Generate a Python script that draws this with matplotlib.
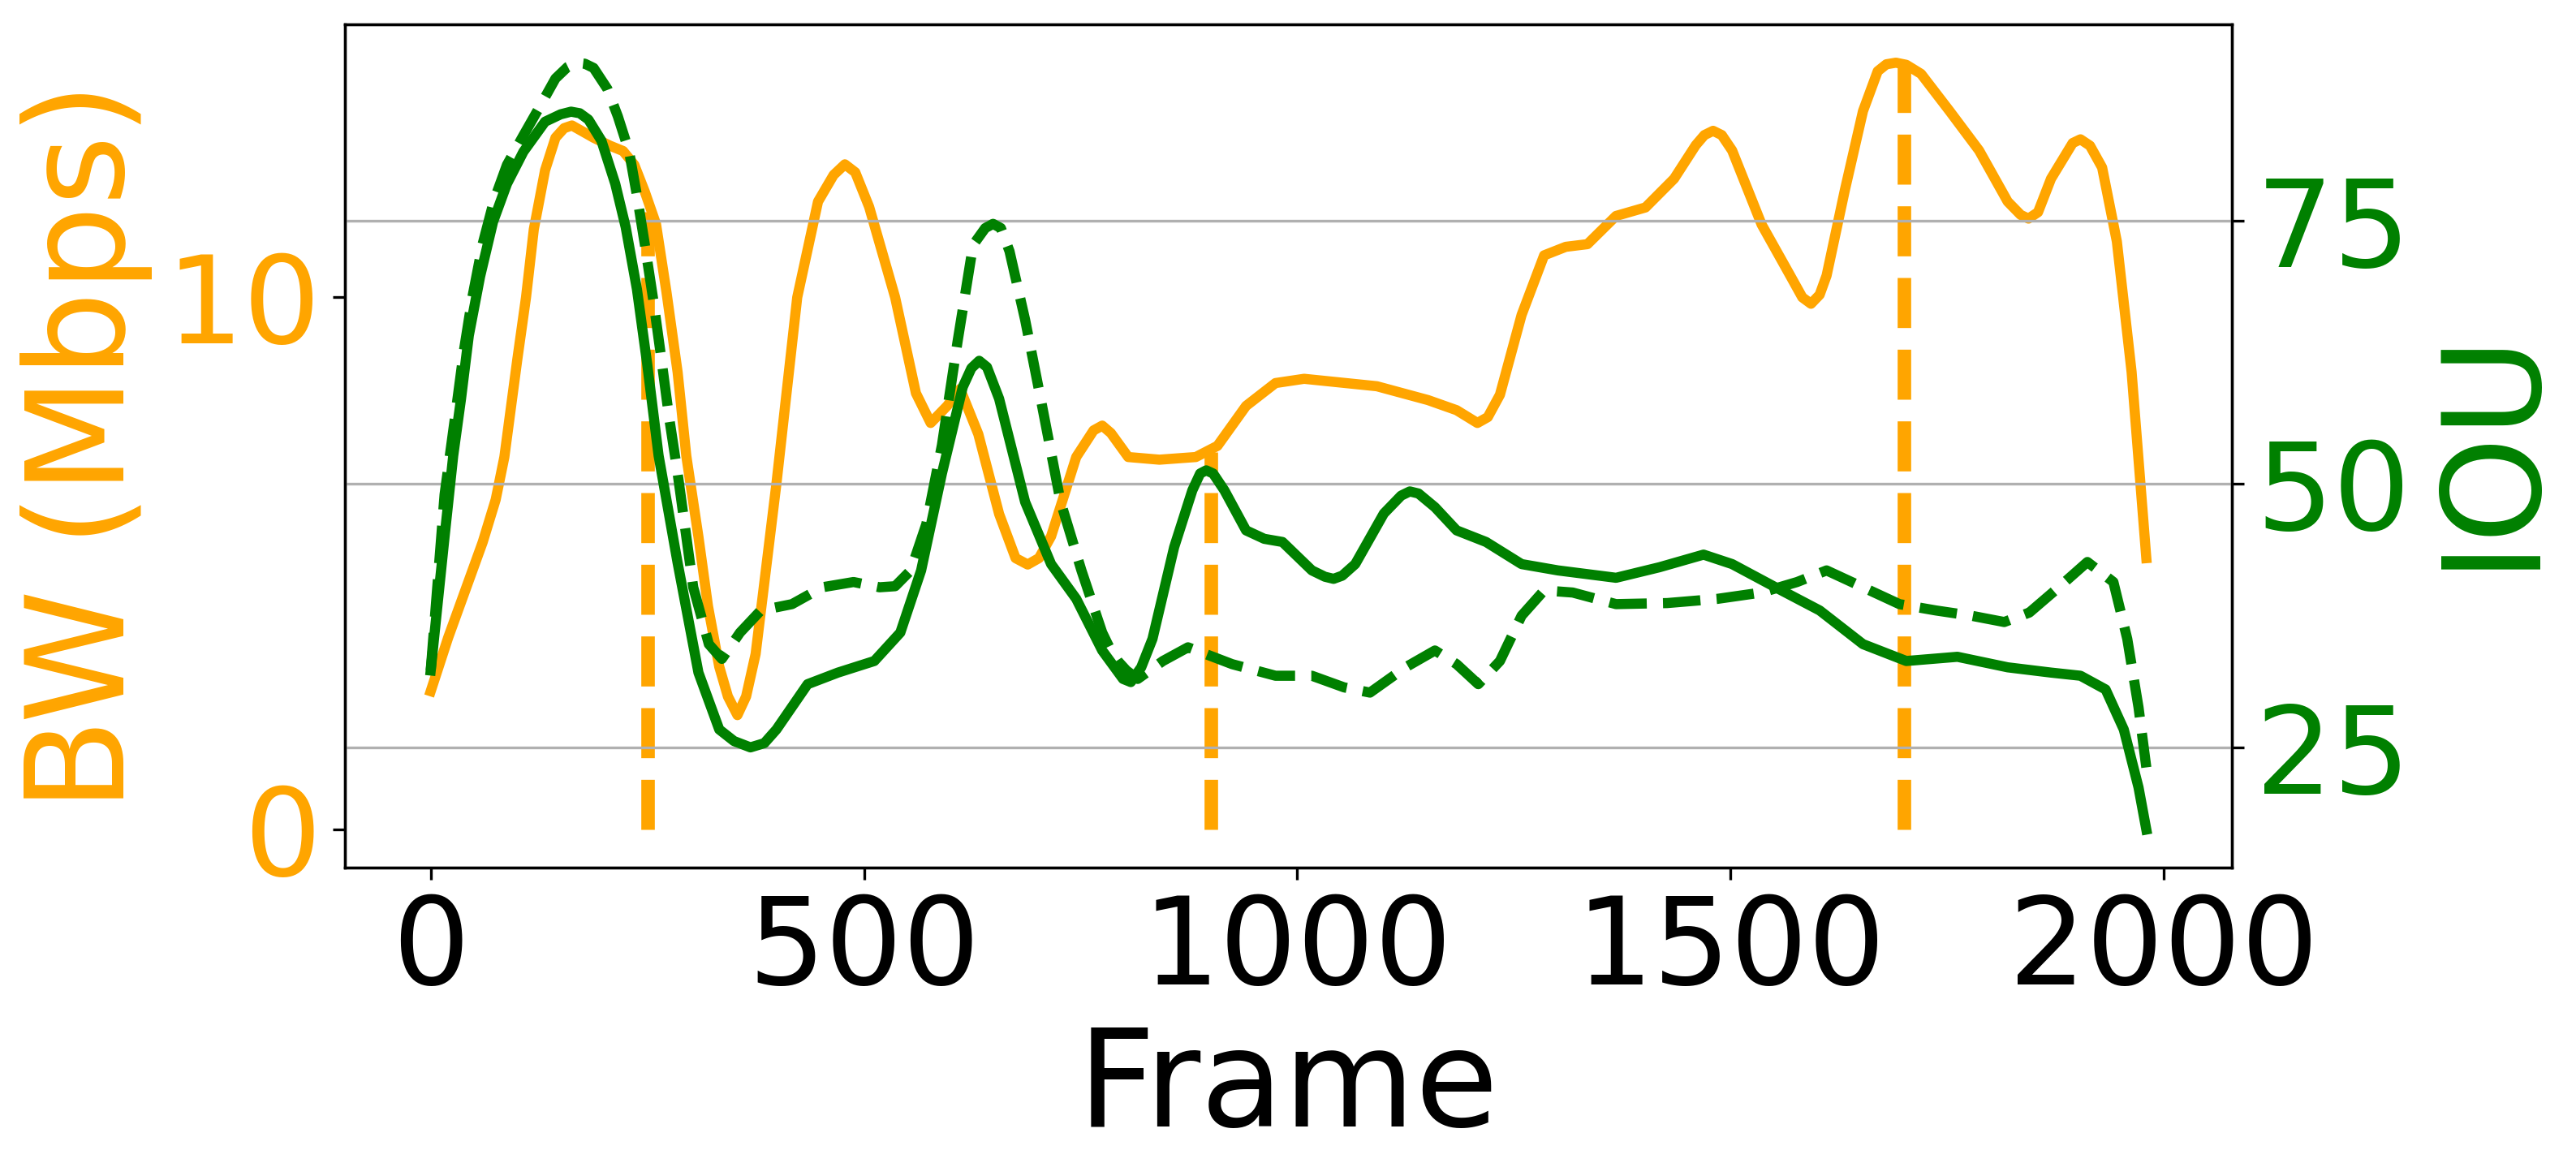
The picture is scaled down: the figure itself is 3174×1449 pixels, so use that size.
import matplotlib
matplotlib.use("Agg")
import matplotlib.pyplot as plt

# bandwidth trace (orange, left axis)
bw_frame = [0, 20, 40, 60, 75, 85, 100, 110, 119, 132, 144, 154, 163, 175,
            188, 207, 222, 235, 247, 260, 272, 285, 295, 309, 320, 333, 343,
            354, 364, 375, 399, 423, 447, 465, 478, 490, 506, 536, 560, 577,
            596, 611, 632, 656, 675, 689, 702, 716, 745, 765, 775, 785, 805,
            841, 883, 908, 941, 975, 1008, 1092, 1151, 1184, 1208, 1220, 1234,
            1259, 1285, 1310, 1335, 1368, 1402, 1435, 1460, 1470, 1480, 1490,
            1502, 1536, 1569, 1583, 1593, 1603, 1611, 1632, 1653, 1670, 1680,
            1691, 1703, 1720, 1753, 1787, 1820, 1835, 1844, 1855, 1870, 1895,
            1904, 1915, 1929, 1946, 1963, 1980]
bw = [2.6, 3.6, 4.5, 5.4, 6.2, 7.0, 8.84, 10.0, 11.28, 12.39, 13.0, 13.18,
      13.23, 13.12, 13.0, 12.85, 12.75, 12.49, 11.99, 11.38, 10.11, 8.59,
      7.02, 5.5, 4.2, 3.06, 2.5, 2.15, 2.5, 3.3, 6.5, 10.0, 11.8, 12.3, 12.5,
      12.35, 11.7, 10.0, 8.2, 7.64, 7.96, 8.28, 7.43, 5.93, 5.1, 4.98, 5.1,
      5.51, 7.0, 7.5, 7.59, 7.45, 7.0, 6.95, 7.0, 7.21, 7.96, 8.39, 8.47,
      8.33, 8.07, 7.88, 7.64, 7.75, 8.17, 9.67, 10.79, 10.95, 11.0, 11.53,
      11.69, 12.23, 12.86, 13.05, 13.13, 13.05, 12.76, 11.37, 10.41, 10.0,
      9.88, 10.05, 10.41, 12.01, 13.5, 14.25, 14.38, 14.41, 14.37, 14.2, 13.5,
      12.76, 11.8, 11.55, 11.48, 11.6, 12.23, 12.9, 12.97, 12.85, 12.44,
      11.05, 8.6, 5.1]

# IOU, solid green
iou_frame = [0, 16, 26, 35, 44, 57, 72, 88, 107, 132, 150, 162, 172, 182,
             197, 213, 225, 238, 250, 263, 285, 309, 333, 350, 369, 385, 399,
             435, 470, 512, 542, 566, 590, 614, 624, 633, 642, 656, 686, 716,
             745, 775, 799, 808, 820, 833, 858, 879, 888, 895, 903, 916, 941,
             962, 983, 1017, 1032, 1042, 1052, 1067, 1100, 1120, 1130, 1140,
             1159, 1184, 1218, 1259, 1301, 1368, 1418, 1469, 1502, 1552, 1603,
             1653, 1703, 1762, 1820, 1870, 1904, 1933, 1954, 1971, 1980]
iou = [32.3, 45.0, 52.7, 58.1, 64.1, 69.7, 74.9, 78.5, 81.55, 84.4, 85.1,
       85.35, 85.2, 84.6, 82.6, 78.5, 74.4, 68.5, 61.3, 52.7, 42.5, 32.1,
       26.7, 25.6, 25.0, 25.4, 26.7, 31.0, 32.1, 33.2, 35.9, 41.8, 51.0, 59.2,
       61.0, 61.7, 61.1, 58.1, 48.3, 42.4, 39.1, 34.2, 31.5, 31.2, 32.6, 35.3,
       44.0, 49.4, 51.0, 51.3, 51.0, 49.4, 45.6, 44.8, 44.5, 41.8, 41.2, 41.0,
       41.3, 42.4, 47.2, 48.9, 49.3, 49.1, 47.8, 45.6, 44.5, 42.4, 41.8, 41.1,
       42.1, 43.3, 42.4, 40.2, 38.0, 34.8, 33.2, 33.6, 32.6, 32.1, 31.8, 30.5,
       26.7, 21.2, 17.2]

# IOU, dashed green
iou2_frame = [0, 16, 29, 38, 48, 60, 73, 88, 107, 125, 144, 158, 168, 178,
              188, 204, 216, 229, 238, 247, 257, 266, 275, 285, 303, 321, 336,
              357, 381, 417, 452, 488, 518, 536, 554, 572, 590, 608, 626, 640,
              649, 658, 668, 686, 704, 727, 751, 775, 785, 793, 803, 816, 845,
              874, 925, 975, 1017, 1054, 1084, 1125, 1159, 1184, 1209, 1234,
              1259, 1285, 1318, 1368, 1427, 1485, 1536, 1577, 1611, 1653, 1695,
              1737, 1778, 1816, 1845, 1879, 1912, 1942, 1958, 1971, 1980]
iou2 = [32.3, 49.0, 56.9, 62.5, 67.7, 72.8, 76.9, 80.3, 83.1, 85.7, 88.5,
        89.6, 90.0, 89.9, 89.5, 87.5, 84.9, 81.55, 77.4, 72.8, 67.4, 62.0,
        56.4, 51.0, 40.2, 34.8, 33.4, 35.9, 38.0, 38.6, 40.2, 40.7, 40.2, 40.3,
        41.8, 46.2, 53.7, 63.5, 72.7, 74.3, 74.7, 74.3, 72.1, 65.6, 58.1, 48.3,
        41.8, 35.9, 34.2, 33.2, 32.3, 31.5, 33.2, 34.5, 32.9, 31.8, 31.8, 30.7,
        30.2, 32.6, 34.2, 32.9, 31.0, 33.2, 37.5, 39.9, 39.7, 38.6, 38.7, 39.1,
        39.7, 40.7, 41.8, 40.2, 38.6, 38.0, 37.5, 36.9, 37.8, 40.2, 42.6, 40.7,
        35.3, 28.8, 23.1]

# marked frames
mark_frame = [250, 900, 1700]
mark_bw = [11.6, 7.1, 14.4]

fig, ax1 = plt.subplots(figsize=(10.58, 4.83), dpi=300)
fig.subplots_adjust(left=0.1339, right=0.8665, top=0.9793, bottom=0.262)

ax1.plot(bw_frame, bw, color="orange", lw=3)
ax1.vlines(mark_frame, 0, mark_bw, colors="orange", linestyles="--", lw=4)
ax1.set_yticks([0, 10])
ax1.set_ylabel("BW (Mbps)", color="orange", fontsize=40)
ax1.set_xlabel("Frame", fontsize=40)
ax1.tick_params(axis="y", labelcolor="orange", labelsize=36)
ax1.tick_params(axis="x", labelsize=36)

ax2 = ax1.twinx()
ax2.plot(iou_frame, iou, color="green", lw=3)
ax2.plot(iou2_frame, iou2, color="green", lw=3, linestyle="--")
ax2.set_yticks([25, 50, 75])
ax2.set_ylabel("IOU", color="green", fontsize=40)
ax2.tick_params(axis="y", labelcolor="green", labelsize=36)
ax2.grid(True)

fig.savefig("out.png", dpi=300)
